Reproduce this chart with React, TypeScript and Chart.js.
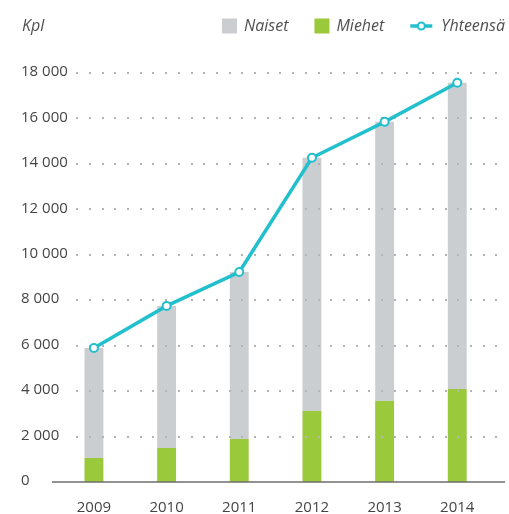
import { useEffect, useRef } from "react";
import { Chart, registerables } from "chart.js";

Chart.register(...registerables);

const years = ["2009", "2010", "2011", "2012", "2013", "2014"];
const miehet = [1060, 1500, 1890, 3120, 3560, 4090];
const naiset = [4840, 6250, 7350, 11150, 12290, 13480];
const yhteensa = [5900, 7750, 9240, 14270, 15850, 17570];
const yMin = 0;
const yMax = 18000;
const yStep = 2000;
const unitLabel = "Kpl";
const seriesNames = ["Miehet", "Naiset", "Yhteensä"];

const GREY = "#cbced1";
const GREEN = "#9aca3c";
const TEAL = "#22bfcd";
const TEXT = "#454545";
const FONT = "'Open Sans', 'Noto Sans', sans-serif";

const fmt = (v: number) => String(v).replace(/\B(?=(\d{3})+(?!\d))/g, " ");

const deco = {
  id: "deco",
  beforeDatasetDraw(chart: any, args: any) {
    if (args.index !== 2) return;
    const ctx = chart.ctx;
    const y = chart.scales.y;
    const area = chart.chartArea;
    ctx.save();
    ctx.font = `15px ${FONT}`;
    ctx.fillStyle = "#b3b3b3";
    y.ticks.forEach((t: any) => {
      if (t.value === 0) return;
      const py = Math.round(y.getPixelForValue(t.value));
      const labelRight = 21 + ctx.measureText(fmt(t.value)).width;
      for (let x = area.left + 19.7; x < area.right + 7; x += 12.7) {
        if (x < labelRight + 9) continue;
        ctx.fillRect(Math.round(x) - 1, py - 1, 2, 2);
      }
    });
    const by = y.getPixelForValue(0);
    ctx.strokeStyle = "#6e6e6e";
    ctx.lineWidth = 1.5;
    ctx.beginPath();
    ctx.moveTo(area.left - 5.6, by);
    ctx.lineTo(area.right + 11.4, by);
    ctx.stroke();
    ctx.restore();
  },
  afterDraw(chart: any) {
    const ctx = chart.ctx;
    ctx.save();
    const y = chart.scales.y;
    ctx.font = `15px ${FONT}`;
    ctx.fillStyle = TEXT;
    ctx.textBaseline = "middle";
    ctx.textAlign = "left";
    y.ticks.forEach((t: any) => {
      ctx.fillText(fmt(t.value), 21, y.getPixelForValue(t.value) - 1);
    });

    ctx.font = `italic 16px ${FONT}`;
    ctx.fillStyle = "#505050";
    const cy = 26;
    ctx.fillText(unitLabel, 22, cy);
    const items = [
      { label: chart.data.datasets[1].label, kind: "box", color: GREY },
      { label: chart.data.datasets[0].label, kind: "box", color: GREEN },
      { label: chart.data.datasets[2].label, kind: "line", color: TEAL },
    ];
    let x = 505;
    const pos: any[] = [];
    for (let i = items.length - 1; i >= 0; i--) {
      const it = items[i];
      const w = ctx.measureText(it.label).width;
      const textX = x - w;
      const symW = it.kind === "box" ? 15 : 22;
      const gap = it.kind === "box" ? 7 : 9;
      const symX = textX - gap - symW;
      pos.unshift({ ...it, textX, symX, symW });
      x = symX - 26;
    }
    pos.forEach((p) => {
      if (p.kind === "box") {
        ctx.fillStyle = p.color;
        ctx.fillRect(p.symX, cy - 7.5, 15, 15);
      } else {
        ctx.strokeStyle = p.color;
        ctx.lineWidth = 3.5;
        ctx.beginPath();
        ctx.moveTo(p.symX, cy);
        ctx.lineTo(p.symX + p.symW, cy);
        ctx.stroke();
        ctx.beginPath();
        ctx.arc(p.symX + p.symW / 2, cy, 3.5, 0, Math.PI * 2);
        ctx.fillStyle = "#fff";
        ctx.fill();
        ctx.lineWidth = 2;
        ctx.stroke();
      }
      ctx.fillStyle = "#505050";
      ctx.fillText(p.label, p.textX, cy);
    });
    ctx.restore();
  },
};

export default function App() {
  const ref = useRef<HTMLCanvasElement>(null);
  useEffect(() => {
    document.body.style.margin = "0";
    const chart = new Chart(ref.current as HTMLCanvasElement, {
      type: "bar",
      data: {
        labels: years,
        datasets: [
          {
            type: "bar",
            label: seriesNames[0],
            data: miehet,
            backgroundColor: GREEN,
            stack: "s",
            barPercentage: 0.26,
            categoryPercentage: 1,
            order: 1,
          },
          {
            type: "bar",
            label: seriesNames[1],
            data: naiset,
            backgroundColor: GREY,
            stack: "s",
            barPercentage: 0.26,
            categoryPercentage: 1,
            order: 1,
          },
          {
            type: "line",
            label: seriesNames[2],
            data: yhteensa,
            borderColor: TEAL,
            borderWidth: 3.5,
            pointRadius: 4,
            pointBackgroundColor: "#fff",
            pointBorderColor: TEAL,
            pointBorderWidth: 2,
            tension: 0,
            stack: "line",
            order: 0,
          } as any,
        ],
      },
      options: {
        responsive: false,
        animation: false,
        layout: { padding: { left: 57.6, right: 15.4, top: 73, bottom: -20 } },
        plugins: { legend: { display: false }, tooltip: { enabled: false } },
        scales: {
          x: {
            stacked: true,
            grid: { display: false, drawTicks: false },
            border: { display: false },
            ticks: { color: TEXT, font: { family: FONT, size: 15 }, padding: 17 },
          },
          y: {
            stacked: true,
            min: yMin,
            max: yMax,
            grid: { display: false, drawTicks: false },
            border: { display: false },
            ticks: {
              stepSize: yStep,
              display: false,
              callback: (v: any) => fmt(Number(v)),
            },
          },
        },
      },
      plugins: [deco],
    });
    return () => chart.destroy();
  }, []);
  return (
    <div style={{ position: "absolute", left: 0, top: 0, width: 509, height: 514 }}>
      <canvas ref={ref} width={509} height={514} />
    </div>
  );
}
